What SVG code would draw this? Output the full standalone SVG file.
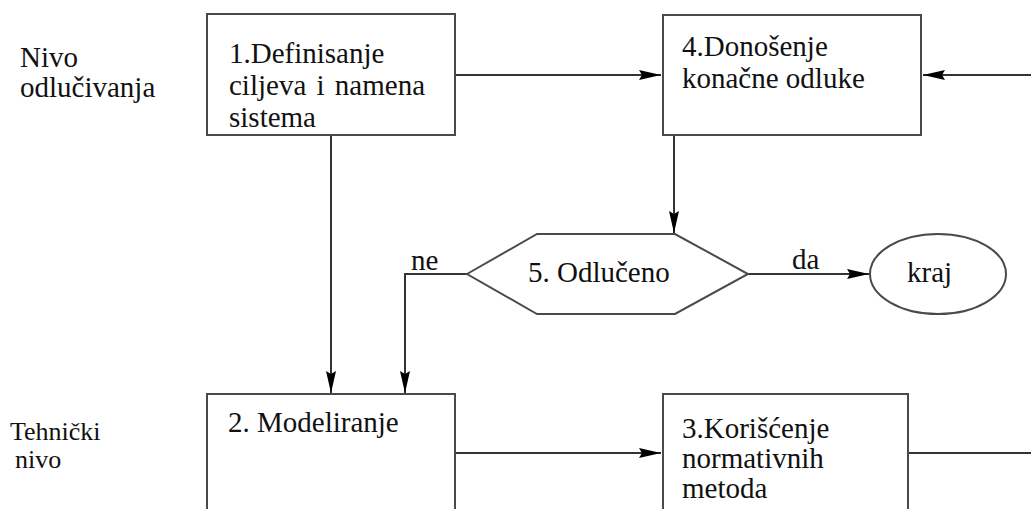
<svg xmlns="http://www.w3.org/2000/svg" width="1031" height="509" viewBox="0 0 1031 509">
<style>
.box{fill:#fff;stroke:#4a4a4a;stroke-width:2}
.t{font-family:'Liberation Serif','Times New Roman',serif;font-size:29px;fill:#111}
.c{fill:none;stroke:#333;stroke-width:2}
</style>
<defs>
<marker id="ah" markerWidth="22" markerHeight="10" refX="22" refY="5" orient="auto" markerUnits="userSpaceOnUse">
<path d="M0,0 L22,5 L0,10 L3,5 Z" fill="#000"/>
</marker>
</defs>
<rect width="1031" height="509" fill="#fff"/>
<g id="labels">
<text class="t" x="20" y="67">Nivo</text>
<text class="t" x="20" y="97">odlučivanja</text>
<text class="t" x="10" y="440" style="font-size:26px">Tehnički</text>
<text class="t" x="15" y="468" style="font-size:26px">nivo</text>
</g>
<g id="connectors">
<path class="c" d="M455,75 L661,75" marker-end="url(#ah)"/>
<path class="c" d="M1031,75 L923,75" marker-end="url(#ah)"/>
<path class="c" d="M331,135 L331,393" marker-end="url(#ah)"/>
<path class="c" d="M674,135 L674,233" marker-end="url(#ah)"/>
<path class="c" d="M467,274 L405,274 L405,393" marker-end="url(#ah)"/>
<path class="c" d="M748,274 L869,274" marker-end="url(#ah)"/>
<path class="c" d="M455,453 L661,453" marker-end="url(#ah)"/>
<path class="c" d="M908,453 L1031,453"/>
<text class="t" x="411" y="270">ne</text>
<text class="t" x="792" y="269">da</text>
</g>
<g id="n1">
<rect class="box" x="207" y="14" width="248" height="121"/>
<text class="t" x="229" y="63">1.Definisanje</text>
<text class="t" x="229" y="95" word-spacing="3">ciljeva i namena</text>
<text class="t" x="229" y="127">sistema</text>
</g>
<g id="n4">
<rect class="box" x="663" y="15" width="258" height="120"/>
<text class="t" x="682" y="56">4.Donošenje</text>
<text class="t" x="682" y="88">konačne odluke</text>
</g>
<g id="n5">
<polygon class="box" points="467,274 537,234 675,234 748,274 675,314 537,314"/>
<text class="t" x="528" y="282" fill="#333">5. Odlučeno</text>
</g>
<g id="kraj">
<ellipse class="box" cx="938" cy="274" rx="68" ry="40"/>
<text class="t" x="907" y="282">kraj</text>
</g>
<g id="n2">
<rect class="box" x="207" y="394" width="248" height="130"/>
<text class="t" x="228" y="432">2. Modeliranje</text>
</g>
<g id="n3">
<rect class="box" x="663" y="394" width="245" height="130"/>
<text class="t" x="682" y="438">3.Korišćenje</text>
<text class="t" x="682" y="468">normativnih</text>
<text class="t" x="682" y="498">metoda</text>
</g>
</svg>
